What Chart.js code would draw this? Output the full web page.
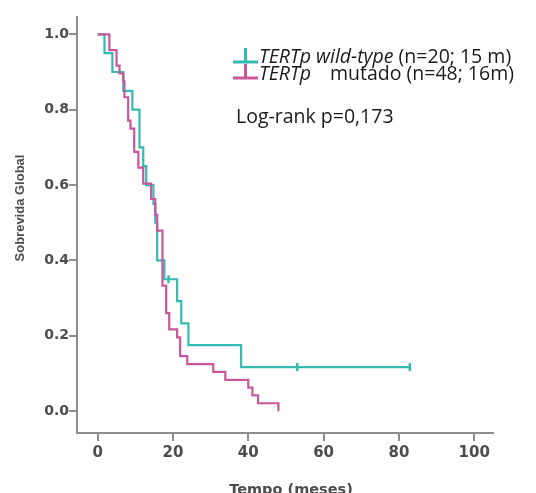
<!DOCTYPE html>
<html>
<head>
<meta charset="utf-8">
<script src="https://cdn.jsdelivr.net/npm/chart.js@4/dist/chart.umd.min.js"></script>
<style>
    html, body { margin: 0; padding: 0; background: #fff; }
</style>
</head>
<body>
<canvas id="km" width="536" height="493"></canvas>
<script>
// Kaplan-Meier steps (time in months, survival fraction)
const wtTime = [0, 1.8, 3.9, 6.8, 9.2, 11.1, 12.1, 12.9, 14.8, 15.3, 15.8, 17.7, 21.1, 22.2, 24.1, 38.1, 82.9];
const wtSurv = [1.0, 0.95, 0.90, 0.85, 0.80, 0.70, 0.65, 0.60, 0.55, 0.50, 0.40, 0.35, 0.292, 0.233, 0.175, 0.117, 0.117];
const wtCensorTime = [18.8, 53.0, 82.9];
const wtCensorSurv = [0.35, 0.117, 0.117];

const mutTime = [0, 3.1, 5.0, 5.8, 6.8, 7.1, 8.1, 8.7, 9.7, 10.8, 12.1, 14.2, 15.3, 15.8, 17.2, 18.2, 19.0, 21.1, 21.9, 23.8, 30.7, 33.9, 40.0, 41.1, 42.6, 48.0];
const mutSurv = [1.0, 0.958, 0.917, 0.896, 0.875, 0.833, 0.771, 0.75, 0.688, 0.646, 0.604, 0.563, 0.521, 0.479, 0.333, 0.26, 0.217, 0.196, 0.146, 0.125, 0.104, 0.083, 0.0625, 0.042, 0.021, 0.0];

const xTicks = [0, 20, 40, 60, 80, 100];
const yTicks = [0.0, 0.2, 0.4, 0.6, 0.8, 1.0];

const teal = '#35bab3';
const pink = '#c9579b';
const axisGrey = '#8e8e8e';
const labelGrey = '#4d4d4d';

function pts(xs, ys) {
    return xs.map((x, i) => ({ x: x, y: ys[i] }));
}

// legend, log-rank note and axis titles
const notes = {
    id: 'notes',
    afterDraw: function(chart) {
        const c = chart.ctx;
        c.save();

        // censor-style legend symbols
        c.lineWidth = 3;
        c.strokeStyle = teal;
        c.beginPath();
        c.moveTo(233, 62); c.lineTo(258, 62);
        c.moveTo(245.5, 48); c.lineTo(245.5, 62);
        c.stroke();
        c.strokeStyle = pink;
        c.beginPath();
        c.moveTo(233, 78); c.lineTo(258, 78);
        c.moveTo(245.5, 64); c.lineTo(245.5, 78);
        c.stroke();

        c.fillStyle = '#1a1a1a';
        c.textBaseline = 'alphabetic';
        c.textAlign = 'left';
        const ital = 'italic 19.5px "Open Sans"';
        const norm = '19.5px "Open Sans"';
        let x = 259;
        c.font = ital; c.fillText('TERTp wild-type', x, 63);
        x += c.measureText('TERTp wild-type').width;
        c.font = norm; c.fillText(' (n=20; 15 m)', x, 63);

        c.font = ital; c.fillText('TERTp', 259, 80);
        c.font = norm; c.fillText('mutado (n=48; 16m)', 330, 80);

        c.fillText('Log-rank p=0,173', 236, 123);

        // axis titles
        c.fillStyle = labelGrey;
        c.font = 'bold 14.5px "DejaVu Sans"';
        c.textAlign = 'center';
        c.textBaseline = 'alphabetic';
        c.fillText('Tempo (meses)', 291, 494);

        c.translate(24, 208);
        c.rotate(-Math.PI / 2);
        c.font = 'bold 13px "Liberation Sans"';
        c.fillText('Sobrevida Global', 0, 0);
        c.restore();
    }
};

new Chart(document.getElementById('km'), {
    type: 'line',
    data: {
        datasets: [
            {
                label: 'TERTp mutado',
                data: pts(mutTime, mutSurv),
                stepped: 'before',
                borderColor: pink,
                borderWidth: 2.2,
                pointRadius: 0,
                fill: false
            },
            {
                label: 'TERTp wild-type',
                data: pts(wtTime, wtSurv),
                stepped: 'before',
                borderColor: teal,
                borderWidth: 2.2,
                pointRadius: 0,
                fill: false
            },
            {
                label: 'censored',
                type: 'scatter',
                data: pts(wtCensorTime, wtCensorSurv),
                pointStyle: 'line',
                rotation: 90,
                pointRadius: 4,
                borderColor: teal,
                borderWidth: 2.5
            }
        ]
    },
    options: {
        responsive: false,
        animation: false,
        devicePixelRatio: 1,
        layout: { padding: { top: 17, right: 43, left: 0, bottom: 0 } },
        plugins: {
            legend: { display: false },
            tooltip: { enabled: false }
        },
        scales: {
            x: {
                type: 'linear',
                min: -5.5,
                max: 105,
                afterBuildTicks: function(s) { s.ticks = xTicks.map(v => ({ value: v })); },
                afterFit: function(s) { s.height = 60; },
                grid: { drawOnChartArea: false, drawTicks: true, tickLength: 8, color: axisGrey, lineWidth: 2 },
                border: { color: axisGrey, width: 2 },
                ticks: {
                    color: labelGrey,
                    padding: 3,
                    maxRotation: 0,
                    font: { family: '"DejaVu Sans"', weight: 'bold', size: 15 }
                }
            },
            y: {
                type: 'linear',
                min: -0.058,
                max: 1.046,
                afterBuildTicks: function(s) { s.ticks = yTicks.map(v => ({ value: v })); },
                afterFit: function(s) { s.width = 77; },
                grid: { drawOnChartArea: false, drawTicks: true, tickLength: 8, color: axisGrey, lineWidth: 2 },
                border: { color: axisGrey, width: 2 },
                ticks: {
                    color: labelGrey,
                    padding: 0,
                    font: { family: '"DejaVu Sans"', weight: 'bold', size: 14 },
                    callback: function(v) { return v.toFixed(1); }
                }
            }
        }
    },
    plugins: [notes]
});
</script>
</body>
</html>
